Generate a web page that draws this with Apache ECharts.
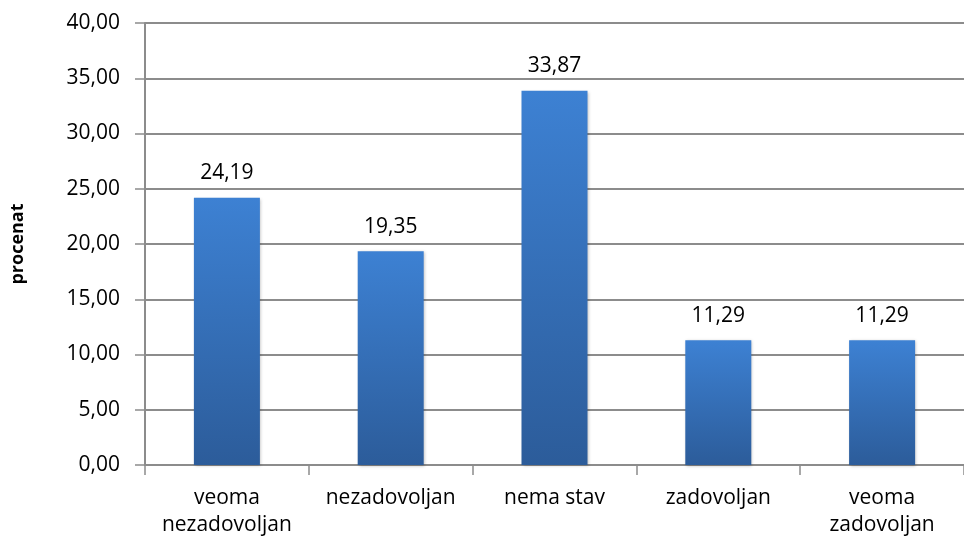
<!DOCTYPE html>
<html>
<head>
<meta charset="utf-8">
<script src="https://cdn.jsdelivr.net/npm/echarts@6/dist/echarts.min.js"></script>
<style>
  html, body { margin: 0; padding: 0; background: #fff; }
  #chart { width: 964px; height: 542px; }
</style>
</head>
<body>
<div id="chart"></div>
<script>
// kategorije i vrijednosti
var categories = ['veoma\nnezadovoljan', 'nezadovoljan', 'nema stav', 'zadovoljan', 'veoma\nzadovoljan']
var values = [24.19, 19.35, 33.87, 11.29, 11.29]
var yTicks = [0, 5, 10, 15, 20, 25, 30, 35, 40]

var fontName = '"Open Sans", "Liberation Sans", sans-serif'

function fmt (v) {
  return v.toFixed(2).replace('.', ',')
}

var chart = echarts.init(document.getElementById('chart'))
chart.setOption({
  animation: false,
  textStyle: { fontFamily: fontName },
  grid: {
    left: 145,
    top: 23,
    width: 832,
    height: 442
  },
  xAxis: {
    type: 'category',
    data: categories,
    axisLine: { lineStyle: { color: '#8c8c8c', width: 2 } },
    axisTick: { show: true, length: 10, lineStyle: { color: '#8c8c8c', width: 1.5 } },
    axisLabel: {
      color: '#000',
      fontSize: 21,
      fontFamily: fontName,
      lineHeight: 27,
      margin: 20,
      interval: 0
    }
  },
  yAxis: {
    type: 'value',
    min: yTicks[0],
    max: yTicks[yTicks.length - 1],
    interval: 5,
    name: 'procenat',
    nameLocation: 'middle',
    nameGap: 118,
    nameRotate: 90,
    nameTextStyle: { color: '#000', fontSize: 18, fontWeight: 'bold', fontFamily: fontName },
    axisLine: { show: true, lineStyle: { color: '#8c8c8c', width: 2 } },
    axisTick: { show: true, length: 10, lineStyle: { color: '#8c8c8c', width: 1.5 } },
    axisLabel: {
      color: '#000',
      fontSize: 21,
      fontFamily: fontName,
      margin: 25,
      formatter: fmt
    },
    splitLine: { lineStyle: { color: '#8c8c8c', width: 2 } }
  },
  series: [{
    type: 'bar',
    data: values,
    barWidth: 66,
    itemStyle: {
      color: new echarts.graphic.LinearGradient(0, 0, 0, 1, [
        { offset: 0, color: '#3d81d3' },
        { offset: 1, color: '#2c5c9a' }
      ]),
      shadowColor: 'rgba(0,0,0,0.25)',
      shadowBlur: 3,
      shadowOffsetX: 1,
      shadowOffsetY: 1
    },
    label: {
      show: true,
      position: 'top',
      distance: 14,
      color: '#000',
      fontSize: 21,
      fontFamily: fontName,
      formatter: function (p) { return fmt(p.value) }
    }
  }]
})
</script>
</body>
</html>
